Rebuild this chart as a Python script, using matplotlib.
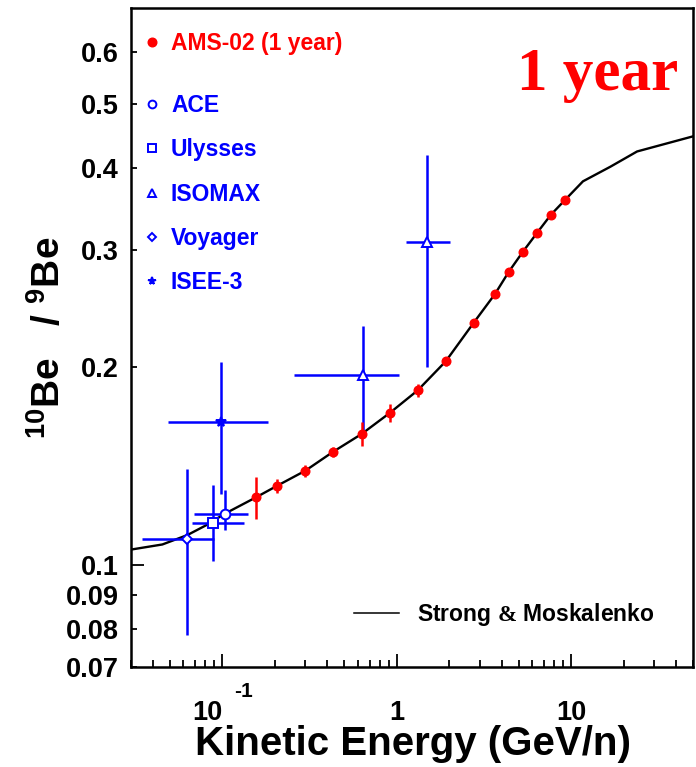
import matplotlib
matplotlib.use("Agg")
import matplotlib.pyplot as plt
import numpy as np
from matplotlib.lines import Line2D
from matplotlib.ticker import LogLocator, NullFormatter

# AMS-02 one-year projection (kinetic energy in GeV/n, 10Be/9Be ratio)
ams_energy = [0.156, 0.206, 0.300, 0.431, 0.630, 0.912, 1.32, 1.91, 2.77,
              3.66, 4.40, 5.30, 6.38, 7.67, 9.24]
ams_ratio = [0.1266, 0.1318, 0.139, 0.1484, 0.158, 0.170, 0.184, 0.2036,
             0.2332, 0.2576, 0.2786, 0.2988, 0.319, 0.340, 0.358]
ams_error = [0.0093, 0.0033, 0.0030, 0.0025, 0.0066, 0.0053, 0.0040, 0.003,
             0.003, 0.003, 0.003, 0.003, 0.003, 0.003, 0.003]

# Strong & Moskalenko model curve
model_energy = [0.03, 0.0454, 0.0632, 0.0806, 0.1036, 0.156, 0.206, 0.300,
                0.431, 0.630, 0.912, 1.32, 1.91, 2.77, 3.66, 4.40, 5.30,
                6.38, 7.67, 9.24, 11.7, 16.8, 23.9, 50.0]
model_ratio = [0.1055, 0.1074, 0.1110, 0.1148, 0.1196, 0.1266, 0.1318, 0.139,
               0.1484, 0.158, 0.170, 0.184, 0.2036, 0.2332, 0.2576, 0.2786,
               0.2988, 0.319, 0.340, 0.358, 0.382, 0.402, 0.424, 0.447]

# measurements: centre, energy range, ratio range
ace_e, ace_e_lo, ace_e_hi = [0.1036], [0.069], [0.141]
ace_r, ace_r_lo, ace_r_hi = [0.1196], [0.1128], [0.130]

ulysses_e, ulysses_e_lo, ulysses_e_hi = [0.0888], [0.0675], [0.1326]
ulysses_r, ulysses_r_lo, ulysses_r_hi = [0.1158], [0.1013], [0.132]

isomax_e, isomax_e_lo, isomax_e_hi = [0.640, 1.50], [0.257, 1.126], [1.027, 2.017]
isomax_r, isomax_r_lo, isomax_r_hi = [0.194, 0.309], [0.159, 0.1998], [0.2305, 0.419]

voyager_e, voyager_e_lo, voyager_e_hi = [0.0632], [0.0346], [0.090]
voyager_r, voyager_r_lo, voyager_r_hi = [0.1093], [0.0783], [0.140]

isee_e, isee_e_lo, isee_e_hi = [0.0983], [0.0491], [0.182]
isee_r, isee_r_lo, isee_r_hi = [0.1646], [0.128], [0.2033]

y_major = [0.1]
y_minor = [0.07, 0.08, 0.09, 0.2, 0.3, 0.4, 0.5, 0.6]
y_minor_labels = ["0.07", "0.08", "0.09", "0.2", "0.3", "0.4", "0.5", "0.6"]

RED = "#ff0000"
BLUE = "#0000ff"

plt.rcParams.update({
    "font.family": "Liberation Sans",
    "font.weight": "bold",
    "axes.labelweight": "bold",
    "mathtext.fontset": "custom",
    "mathtext.rm": "Liberation Serif",
    "mathtext.bf": "Liberation Sans:bold",
    "mathtext.default": "bf",
})

fig = plt.figure(figsize=(6.96, 7.67), dpi=100)
ax = fig.add_axes([0.1882, 0.1304, 0.8075, 0.8592])

ax.plot(model_energy, model_ratio, color="black", lw=1.7, zorder=2)


def measurement(e, e_lo, e_hi, r, r_lo, r_hi, marker, size, label, filled=False):
    e, e_lo, e_hi = np.array(e), np.array(e_lo), np.array(e_hi)
    r, r_lo, r_hi = np.array(r), np.array(r_lo), np.array(r_hi)
    ax.errorbar(e, r, xerr=[e - e_lo, e_hi - e], yerr=[r - r_lo, r_hi - r],
                fmt="none", ecolor=BLUE, elinewidth=1.8, capsize=0, zorder=3)
    (line,) = ax.plot(e, r, ls="none", marker=marker, ms=size, mec=BLUE,
                      mfc=BLUE if filled else "white", mew=1.4, zorder=4,
                      label=label)
    return line


h_ace = measurement(ace_e, ace_e_lo, ace_e_hi, ace_r, ace_r_lo, ace_r_hi,
                    "o", 7, "ACE")
h_uly = measurement(ulysses_e, ulysses_e_lo, ulysses_e_hi, ulysses_r,
                    ulysses_r_lo, ulysses_r_hi, "s", 6.5, "Ulysses")
h_iso = measurement(isomax_e, isomax_e_lo, isomax_e_hi, isomax_r,
                    isomax_r_lo, isomax_r_hi, "^", 7, "ISOMAX")
h_voy = measurement(voyager_e, voyager_e_lo, voyager_e_hi, voyager_r,
                    voyager_r_lo, voyager_r_hi, "D", 5.5, "Voyager")
h_isee = measurement(isee_e, isee_e_lo, isee_e_hi, isee_r, isee_r_lo,
                     isee_r_hi, "*", 7, "ISEE-3", filled=True)

ax.errorbar(ams_energy, ams_ratio, yerr=ams_error, fmt="none", ecolor=RED,
            elinewidth=1.8, capsize=0, zorder=5)
(h_ams,) = ax.plot(ams_energy, ams_ratio, ls="none", marker="o", ms=6.2,
                   color=RED, zorder=6, label="AMS-02 (1 year)")

ax.set_xscale("log")
ax.set_yscale("log")
ax.set_xlim(0.03, 50)
ax.set_ylim(0.07, 0.70)

ax.set_xticks([0.1, 1, 10], labels=["10", "1", "10"])
ax.xaxis.set_minor_locator(LogLocator(base=10, subs=np.arange(2, 10)))
ax.xaxis.set_minor_formatter(NullFormatter())
ax.set_yticks(y_major, labels=["0.1"])
ax.set_yticks(y_minor, labels=y_minor_labels, minor=True)

ax.tick_params(which="both", direction="in", top=False, right=False,
               labelsize=19.5, width=1.3)
ax.tick_params(axis="x", which="major", length=9.5, pad=38)
ax.tick_params(axis="x", which="minor", length=5)
ax.tick_params(axis="y", which="major", length=9, pad=9)
ax.tick_params(axis="y", which="minor", length=4.5, pad=9)
for lab in ax.get_xticklabels():
    lab.set_va("baseline")
ax.get_xticklabels()[0].set_ha("right")
ax.annotate("-1", xy=(0.1, 0), xycoords=("data", "axes fraction"),
            xytext=(8.6, -21.6), textcoords="offset points", ha="left",
            va="baseline", fontsize=15)

for spine in ax.spines.values():
    spine.set_linewidth(1.8)

ax.set_xlabel("Kinetic Energy (GeV/n)", fontsize=29, va="baseline")
ax.xaxis.set_label_coords(0.502, -0.1335)
ax.set_ylabel(r"$^{10}$Be   / $^{9}$Be", fontsize=28)
ax.yaxis.set_label_coords(-0.112, 0.5)

legend_font = {"family": "Liberation Sans", "weight": "bold", "size": 16.5}
leg_ams = ax.legend(handles=[h_ams], loc="upper left",
                    bbox_to_anchor=(0.025, 0.9636), frameon=False,
                    borderpad=0, borderaxespad=0, handlelength=0.6,
                    handletextpad=0.53, prop=legend_font, labelcolor=RED)
ax.add_artist(leg_ams)
leg_exp = ax.legend(handles=[h_ace, h_uly, h_iso, h_voy, h_isee],
                    loc="upper left", bbox_to_anchor=(0.025, 0.8695),
                    frameon=False, borderpad=0, borderaxespad=0,
                    handlelength=0.6, handletextpad=0.53, labelspacing=0.93,
                    markerscale=0.8, prop=legend_font, labelcolor=BLUE)
ax.add_artist(leg_exp)
ax.legend(handles=[Line2D([], [], color="black", lw=1.1)],
          labels=[r"Strong $\mathrm{&}$ Moskalenko"], loc="upper left",
          bbox_to_anchor=(0.397, 0.0994), frameon=False, borderpad=0,
          borderaxespad=0, handlelength=1.94, handletextpad=0.8,
          prop={"family": "Liberation Sans", "weight": "bold", "size": 16.5})

ax.text(0.973, 0.8756, "1 year", transform=ax.transAxes, ha="right",
        va="baseline", color=RED, fontsize=44, fontweight="bold",
        family="Liberation Serif")

fig.savefig("out.png", dpi=100)
